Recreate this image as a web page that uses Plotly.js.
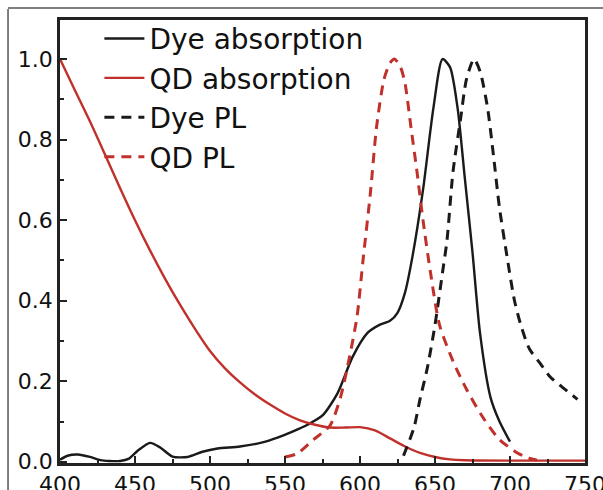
<!DOCTYPE html>
<html>
<head>
<meta charset="utf-8">
<script src="https://cdn.plot.ly/plotly-3.0.1.min.js"></script>
<style>html,body{margin:0;padding:0;background:#fff;}#chart{width:603px;height:490px;}</style>
</head>
<body>
<div id="chart"></div>
<script>
// Dye absorption
var dyeAbsX = [400,405,412,420,427,433,440,446,452,460,467,475,485,495,505,520,535,545,555,565,575,585,595,605,613,620,625,630,635,642,649,655,660,665,670,675,680,687,693,700];
var dyeAbsY = [0.005,0.015,0.018,0.012,0.004,0.002,0.002,0.008,0.028,0.047,0.035,0.013,0.012,0.025,0.033,0.038,0.048,0.06,0.075,0.092,0.115,0.17,0.26,0.32,0.34,0.35,0.37,0.42,0.51,0.675,0.88,1.0,0.98,0.88,0.70,0.52,0.32,0.16,0.10,0.05];
// QD absorption
var qdAbsX = [400,410,420,430,440,450,460,470,480,490,500,510,520,530,540,550,560,570,580,590,600,610,620,630,640,650,660,670,700,750];
var qdAbsY = [1.0,0.922,0.845,0.763,0.68,0.60,0.525,0.455,0.39,0.33,0.275,0.232,0.197,0.167,0.142,0.12,0.103,0.092,0.085,0.085,0.086,0.078,0.058,0.038,0.022,0.012,0.006,0.004,0.003,0.003];
// Dye PL
var dyePLX = [629,636,640,645,650,655,658,662,667,671,676,680,685,689,693,698,703,708,713,720,727,735,745];
var dyePLY = [0.015,0.085,0.155,0.235,0.34,0.47,0.55,0.72,0.85,0.95,1.0,0.97,0.88,0.76,0.63,0.51,0.40,0.33,0.28,0.245,0.21,0.185,0.155];
// QD PL
var qdPLX = [550,558,569,580,587,593,598,602,607,611,616,620,623,627,630,634,638,642,647,653,662,671,682,693,705,712,718];
var qdPLY = [0.012,0.02,0.055,0.09,0.16,0.26,0.36,0.5,0.67,0.83,0.95,0.99,1.0,0.98,0.94,0.83,0.72,0.6,0.47,0.34,0.25,0.18,0.11,0.055,0.022,0.01,0.004];

var seriesNames = ['Dye absorption','QD absorption','Dye PL','QD PL'];
var black = '#1a1a1a', red = '#c0312b';

var traces = [
  {x: dyeAbsX, y: dyeAbsY, name: seriesNames[0], mode: 'lines',
   line: {color: black, width: 2.4, shape: 'spline', smoothing: 0.7}},
  {x: qdAbsX, y: qdAbsY, name: seriesNames[1], mode: 'lines',
   line: {color: red, width: 2.4, shape: 'spline', smoothing: 0.7}},
  {x: dyePLX, y: dyePLY, name: seriesNames[2], mode: 'lines',
   line: {color: black, width: 3, dash: '10px,7px', shape: 'spline', smoothing: 0.7}},
  {x: qdPLX, y: qdPLY, name: seriesNames[3], mode: 'lines',
   line: {color: red, width: 3, dash: '10px,7px', shape: 'spline', smoothing: 0.7}}
];

var axisCommon = {
  showline: true, linecolor: '#222', linewidth: 2.8, mirror: true,
  ticks: 'inside', ticklen: 7, tickwidth: 2, tickcolor: '#222',
  showgrid: false, zeroline: false, ticklabeloverflow: 'allow',
  tickfont: {family: 'DejaVu Sans, sans-serif', size: 22, color: '#111'}
};

var layout = {
  width: 603, height: 490,
  margin: {l: 60, r: 18, t: 20, b: 27, pad: 0},
  paper_bgcolor: '#fff', plot_bgcolor: '#fff',
  showlegend: true,
  legend: {x: 0.075, y: 1.014, xanchor: 'left', yanchor: 'top',
           bgcolor: 'rgba(0,0,0,0)', borderwidth: 0,
           font: {family: 'DejaVu Sans, sans-serif', size: 28, color: '#111'},
           itemwidth: 40, tracegroupgap: 0},
  xaxis: Object.assign({}, axisCommon, {
    range: [400, 750], tick0: 400, dtick: 50,
    minor: {ticks: 'inside', ticklen: 4, tickwidth: 2, dtick: 25, tickcolor: '#222'}
  }),
  yaxis: Object.assign({}, axisCommon, {
    range: [-0.003, 1.097], tick0: 0, dtick: 0.2, tickformat: '.1f',
    minor: {ticks: 'inside', ticklen: 4, tickwidth: 2, dtick: 0.1, tickcolor: '#222'}
  }),
  shapes: [
    {type: 'line', xref: 'paper', yref: 'paper', x0: -0.099, x1: -0.099, y0: 1.025, y1: -0.07,
     line: {color: '#555', width: 1.5}},
    {type: 'line', xref: 'paper', yref: 'paper', x0: -0.099, x1: 1.04, y0: 1.027, y1: 1.027,
     line: {color: '#555', width: 1.5}}
  ]
};

Plotly.newPlot('chart', traces, layout, {displayModeBar: false, staticPlot: true});
</script>
</body>
</html>
